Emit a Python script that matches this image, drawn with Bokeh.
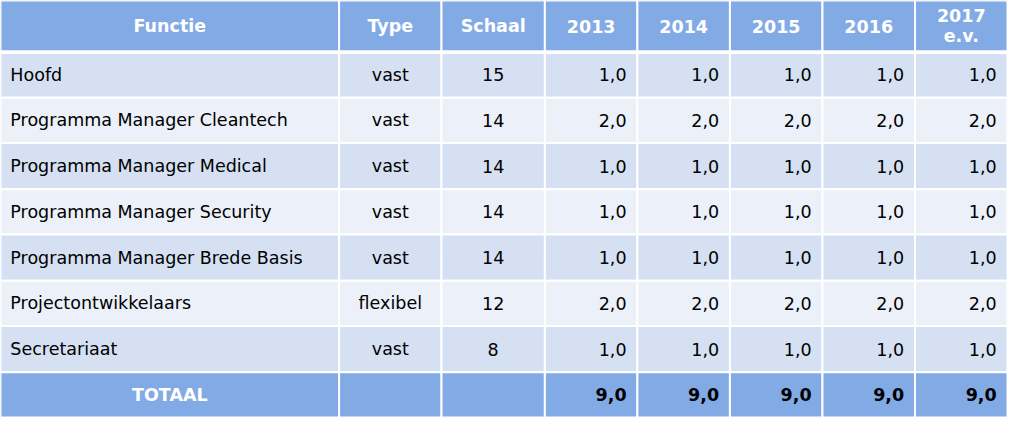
from bokeh.plotting import figure
from bokeh.models import Range1d
from bokeh.core.properties import value
from bokeh.embed import file_html
from bokeh.resources import INLINE

# ---- data ----
headers = ["Functie", "Type", "Schaal", "2013", "2014", "2015", "2016", "2017\ne.v."]
functies = ["Hoofd", "Programma Manager Cleantech", "Programma Manager Medical",
            "Programma Manager Security", "Programma Manager Brede Basis",
            "Projectontwikkelaars", "Secretariaat"]
types = ["vast", "vast", "vast", "vast", "vast", "flexibel", "vast"]
schaal = [15, 14, 14, 14, 14, 12, 8]
fte_2013 = [1.0, 2.0, 1.0, 1.0, 1.0, 2.0, 1.0]
fte_2014 = [1.0, 2.0, 1.0, 1.0, 1.0, 2.0, 1.0]
fte_2015 = [1.0, 2.0, 1.0, 1.0, 1.0, 2.0, 1.0]
fte_2016 = [1.0, 2.0, 1.0, 1.0, 1.0, 2.0, 1.0]
fte_2017 = [1.0, 2.0, 1.0, 1.0, 1.0, 2.0, 1.0]
total_label = "TOTAAL"

# ---- layout (pixel grid of the reference) ----
col_edges = [0, 344, 448, 553, 647, 741, 835, 929, 1023]
row_edges = [0, 53, 101, 148, 196, 243, 291, 338, 386, 433]
HEAD = "#82AAE5"
DARK = "#D5E0F3"
LIGHT = "#EBF0F9"
FONT = "DejaVu Sans"
FS = "17.5px"
FSB = "17.5px"

years = [fte_2013, fte_2014, fte_2015, fte_2016, fte_2017]
fmt = lambda v: ("%.1f" % v).replace(".", ",")

p = figure(width=1008, height=417, output_backend="svg", toolbar_location=None,
           x_range=Range1d(0, 1024), y_range=Range1d(433, 0),
           min_border=0, background_fill_color="white", border_fill_color="white")
p.axis.visible = False
p.grid.visible = False
p.outline_line_color = None

# cells
L, R, T, B, C = [], [], [], [], []
nrows = len(row_edges) - 1
ncols = len(col_edges) - 1
for r in range(nrows):
    for c in range(ncols):
        L.append(col_edges[c]); R.append(col_edges[c + 1])
        T.append(row_edges[r]); B.append(row_edges[r + 1])
        if r == 0 or r == nrows - 1:
            C.append(HEAD)
        else:
            C.append(DARK if r % 2 == 1 else LIGHT)
p.quad(left=L, right=R, top=T, bottom=B, fill_color=C, line_color="white", line_width=2)
# thicker separator under header
p.segment(x0=[0], x1=[1024], y0=[row_edges[1] + 1], y1=[row_edges[1] + 1],
          line_color="white", line_width=3)

def mid(a, i):
    return (a[i] + a[i + 1]) / 2

# header text
hx = [mid(col_edges, c) for c in range(ncols)]
hy = [mid(row_edges, 0)] * ncols
p.text(x=hx, y=hy, text=headers, text_align="center", text_baseline="middle",
       text_color="white", text_font=value(FONT), text_font_style="bold",
       text_font_size=FSB, text_line_height=1.0)

# body
fx, fy, ft = [], [], []
cx, cy, ct = [], [], []
rx, ry, rt = [], [], []
for i in range(len(functies)):
    y = mid(row_edges, i + 1)
    fx.append(col_edges[0] + 10); fy.append(y); ft.append(functies[i])
    cx.append(mid(col_edges, 1)); cy.append(y); ct.append(types[i])
    cx.append(mid(col_edges, 2)); cy.append(y); ct.append(str(schaal[i]))
    for k, ys in enumerate(years):
        rx.append(col_edges[3 + k + 1] - 11); ry.append(y); rt.append(fmt(ys[i]))
common = dict(text_baseline="middle", text_color="black", text_font=value(FONT),
              text_font_size=FS)
p.text(x=fx, y=fy, text=ft, text_align="left", **common)
p.text(x=cx, y=cy, text=ct, text_align="center", **common)
p.text(x=rx, y=ry, text=rt, text_align="right", **common)

# total row
ty = mid(row_edges, nrows - 1)
p.text(x=[mid(col_edges, 0)], y=[ty], text=[total_label], text_align="center",
       text_baseline="middle", text_color="white", text_font=value(FONT),
       text_font_style="bold", text_font_size=FSB)
tx = [col_edges[3 + k + 1] - 11 for k in range(len(years))]
tt = [fmt(sum(ys)) for ys in years]
p.text(x=tx, y=[ty] * len(tx), text=tt, text_align="right", text_baseline="middle",
       text_color="black", text_font=value(FONT), text_font_style="bold",
       text_font_size=FSB)

open("out.html", "w").write(file_html(p, INLINE))
